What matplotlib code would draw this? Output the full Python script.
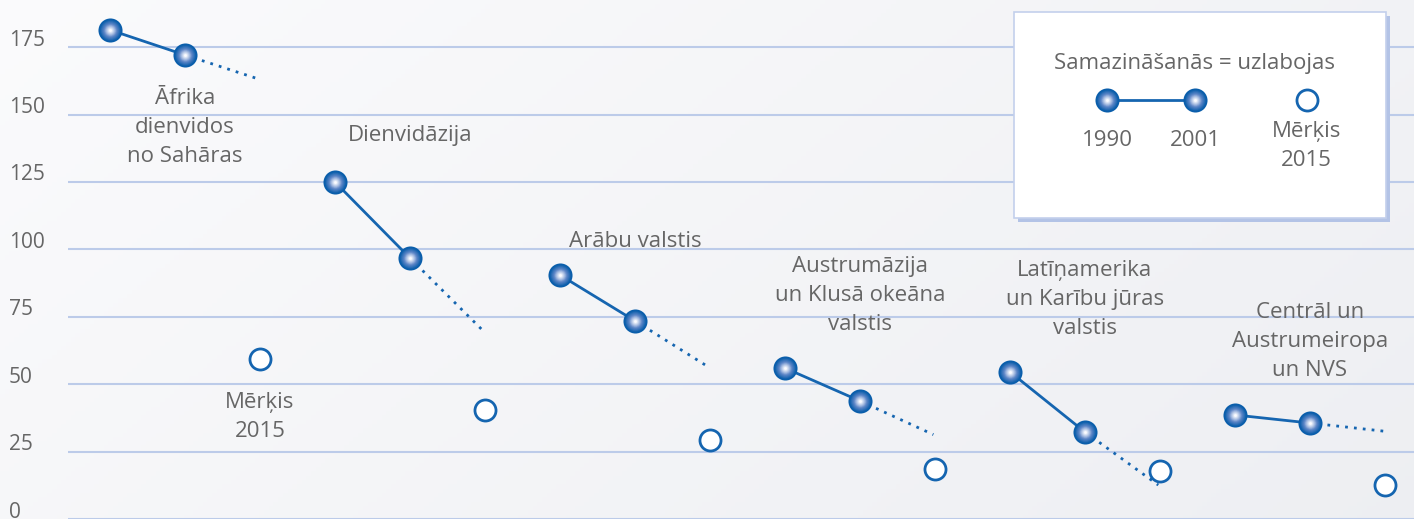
import numpy as np
import matplotlib
matplotlib.use('Agg')
from matplotlib import pyplot as plt
from matplotlib.patches import Rectangle

plt.rcParams['font.family'] = ['Open Sans', 'DejaVu Sans']

# dati: bērnu mirstība (uz 1000), 1990, 2001, tendences gals, mērķis 2015
regions = ['Āfrika\ndienvidos\nno Sahāras', 'Dienvidāzija', 'Arābu valstis',
           'Austrumāzija\nun Klusā okeāna\nvalstis',
           'Latīņamerika\nun Karību jūras\nvalstis',
           'Centrāl un\nAustrumeiropa\nun NVS']
val_1990 = [181.4, 125.0, 90.5, 56.0, 54.6, 38.6]
val_2001 = [172.1, 96.8, 73.5, 43.8, 32.3, 35.6]
trend_end = [163.2, 69.7, 56.4, 31.3, 12.6, 32.6]
target_2015 = [59.3, 40.4, 29.3, 18.6, 17.8, 12.6]
yticks = [0, 25, 50, 75, 100, 125, 150, 175]

# nosaukumu novietojums (y vērtība, teksta augšmala)
label_y = [160, 146, 107, 97.5, 96, 80.5]

blue = '#1565b0'
grey = '#666666'
grid_c = '#bccbe9'
fs = 16

fig = plt.figure(figsize=(14.14, 5.19), dpi=100)

# fons ar vieglu gradientu
bg = fig.add_axes([0, 0, 1, 1], zorder=-10)
gx = np.linspace(0, 1, 300)
gy = np.linspace(0, 1, 120)
GX, GY = np.meshgrid(gx, gy)
g = np.clip(0.55 * GX + 0.25 * (1 - GY) + 0.1, 0, 1)
c0 = np.array([0.99, 0.99, 0.995])
c1 = np.array([0.925, 0.93, 0.945])
img = c0[None, None, :] * (1 - g[..., None]) + c1[None, None, :] * g[..., None]
bg.imshow(img, aspect='auto', extent=[0, 1, 0, 1], origin='lower')
bg.axis('off')

ax = fig.add_axes([68 / 1414, 0, 1 - 68 / 1414, 1])
ax.patch.set_alpha(0)
ax.set_xlim(-0.56, 17.39)
ax.set_ylim(0, 192.5)
for s in ax.spines.values():
    s.set_visible(False)
ax.set_xticks([])
ax.set_yticks([])
for t in yticks:
    ax.axhline(t, color=grid_c, lw=1.5, zorder=1)
    fig.text(9 / 1414, (t * 2.696 + 7) / 519, str(t), ha='left', va='center',
             fontsize=15, color=grey)

dark = np.array([0.04, 0.37, 0.67])
mid = np.array([0.36, 0.52, 0.78])
light = np.array([0.98, 0.985, 1.0])


def sphere(x, y, z=5):
    # punkts ar "bumbiņas" efektu
    ax.scatter(x, y, s=300, color=dark, zorder=z, linewidths=0)
    n = 14
    for k in range(n):
        f = k / (n - 1)
        size = 240 * (1 - f) ** 1.4 + 4
        if f < 0.5:
            col = dark * (1 - 2 * f) + mid * 2 * f
        else:
            col = mid * (2 - 2 * f) + light * (2 * f - 1)
        ax.scatter(x, y, s=size, color=np.clip(col, 0, 1), zorder=z + 0.01 * (k + 1),
                   linewidths=0)


for i in range(len(regions)):
    x0 = 3 * i
    ax.plot([x0, x0 + 1], [val_1990[i], val_2001[i]], color=blue, lw=2, zorder=3)
    ax.plot([x0 + 1, x0 + 1.98], [val_2001[i], trend_end[i]], color=blue, lw=2,
            ls=(0, (1, 2.2)), zorder=3)
    sphere([x0, x0 + 1], [val_1990[i], val_2001[i]])
    ax.scatter(x0 + 2, target_2015[i], s=230, facecolor='white', edgecolor=blue,
               linewidths=2, zorder=5)
    ax.text(x0 + 1, label_y[i], regions[i], ha='center', va='top', fontsize=fs,
            color=grey, linespacing=1.5, zorder=4)

ax.text(2, 47, 'Mērķis\n2015', ha='center', va='top', fontsize=fs, color=grey,
        linespacing=1.5, zorder=4)

# leģenda
lx0, lx1 = 12.05, 17.01
ly0, ly1 = 111.7, 188.1
ax.add_patch(Rectangle((lx0 + 0.055, ly0 - 1.6), lx1 - lx0, ly1 - ly0,
                       facecolor='#b3c3e6', edgecolor='none', zorder=6))
ax.add_patch(Rectangle((lx0, ly0), lx1 - lx0, ly1 - ly0, facecolor='white',
                       edgecolor='#c3d0ec', lw=1.2, zorder=7))
ax.text(14.46, 169, 'Samazināšanās = uzlabojas', ha='center', va='center',
        fontsize=fs, color=grey, zorder=8)
ax.plot([13.3, 14.47], [155.5, 155.5], color=blue, lw=2, zorder=8)
sphere([13.3, 14.47], [155.5, 155.5], z=9)
ax.scatter(15.96, 155.5, s=230, facecolor='white', edgecolor=blue, linewidths=2,
           zorder=9)
ax.text(13.3, 140.5, '1990', ha='center', va='center', fontsize=fs, color=grey,
        zorder=8)
ax.text(14.47, 140.5, '2001', ha='center', va='center', fontsize=fs, color=grey,
        zorder=8)
ax.text(15.96, 147.5, 'Mērķis\n2015', ha='center', va='top', fontsize=fs,
        color=grey, linespacing=1.5, zorder=8)

fig.savefig('out.png', dpi=100)
